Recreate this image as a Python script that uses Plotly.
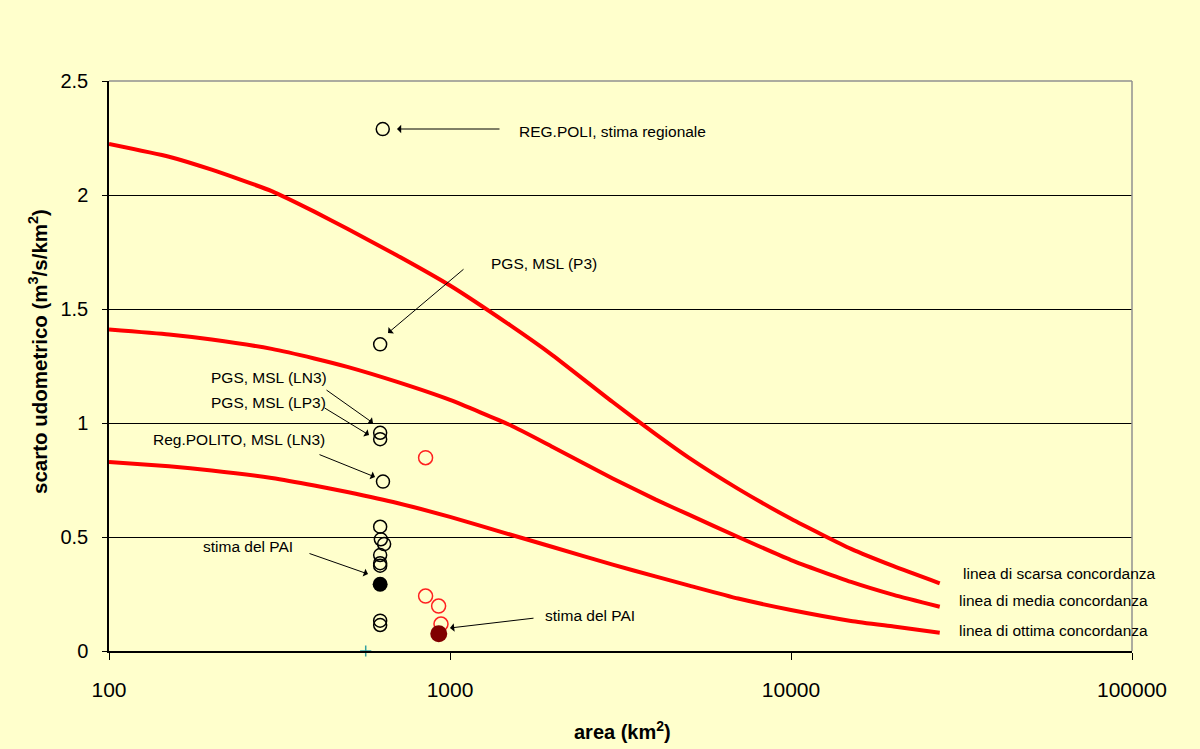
import plotly.graph_objects as go

# ---------------- data ----------------
curve_area = [100, 150, 200, 300, 400, 500, 700, 1000, 1500, 2000, 3000, 4000, 5000, 7000, 10000, 15000, 20000, 27300]
scarsa = [2.224, 2.168, 2.111, 2.017, 1.927, 1.852, 1.735, 1.603, 1.429, 1.297, 1.092, 0.952, 0.849, 0.711, 0.580, 0.448, 0.372, 0.297]
media = [1.410, 1.388, 1.366, 1.325, 1.283, 1.246, 1.180, 1.101, 0.991, 0.895, 0.757, 0.665, 0.599, 0.500, 0.399, 0.303, 0.246, 0.194]
ottima = [0.829, 0.810, 0.792, 0.759, 0.726, 0.697, 0.649, 0.588, 0.511, 0.456, 0.379, 0.327, 0.288, 0.230, 0.180, 0.132, 0.107, 0.080]

black_open_area = [635, 624, 624, 624, 636, 624, 627, 641, 624, 624, 624, 624, 624]
black_open_q = [2.289, 1.345, 0.957, 0.929, 0.743, 0.545, 0.490, 0.469, 0.421, 0.385, 0.374, 0.133, 0.114]
black_fill_area = [624]
black_fill_q = [0.293]
red_open_area = [848, 848, 926, 941]
red_open_q = [0.848, 0.241, 0.197, 0.118]
red_fill_area = [927]
red_fill_q = [0.076]
plus_area = [566]
plus_q = [0.0]

x_ticks = [100, 1000, 10000, 100000]
x_ticklabels = ["100", "1000", "10000", "100000"]
y_ticks = [0, 0.5, 1, 1.5, 2, 2.5]
y_ticklabels = ["0", "0.5", "1", "1.5", "2", "2.5"]

curve_labels = ["linea di scarsa concordanza", "linea di media concordanza", "linea di ottima concordanza"]

# ---------------- layout geometry ----------------
W, H = 1200, 749
L, R, T, B = 109, 1132, 81, 651
PW, PH = R - L, B - T
BG = "#FFFFCC"
FONT = "Liberation Sans, Arial, sans-serif"


def px(xp, yp):
    return (xp - L) / PW, (B - yp) / PH


fig = go.Figure()

for ys in (scarsa, media, ottima):
    fig.add_trace(go.Scatter(x=curve_area, y=ys, mode="lines",
                             line=dict(color="#FF0000", width=4, shape="spline", smoothing=0.5),
                             hoverinfo="skip"))

fig.add_trace(go.Scatter(x=black_open_area, y=black_open_q, mode="markers",
                         marker=dict(symbol="circle-open", size=13, color="black", line=dict(width=1.5))))
fig.add_trace(go.Scatter(x=black_fill_area, y=black_fill_q, mode="markers",
                         marker=dict(symbol="circle", size=15, color="black")))
fig.add_trace(go.Scatter(x=red_open_area, y=red_open_q, mode="markers",
                         marker=dict(symbol="circle-open", size=14, color="#FF2020", line=dict(width=1.5))))
fig.add_trace(go.Scatter(x=red_fill_area, y=red_fill_q, mode="markers",
                         marker=dict(symbol="circle", size=17, color="#800000")))
fig.add_trace(go.Scatter(x=plus_area, y=plus_q, mode="markers", cliponaxis=False,
                         marker=dict(symbol="cross-thin", size=8, color="#33A0A0",
                                     line=dict(width=1.5, color="#33A0A0"))))

annotations = []

# arrows: (tail_x, tail_y, head_x, head_y) in pixels
arrows = [
    (501, 129, 397, 129),
    (465, 268, 388, 333),
    (325, 389, 373, 423),
    (323, 407, 369, 435),
    (318, 454, 375, 477),
    (308, 553, 368, 574),
    (535, 618, 450, 628),
]
for tx, ty, hx, hy in arrows:
    x, y = px(hx, hy)
    annotations.append(dict(x=x, y=y, xref="paper", yref="paper", text="",
                            showarrow=True, ax=tx - hx, ay=ty - hy,
                            arrowhead=1, arrowsize=1.4, arrowwidth=1,
                            arrowcolor="black", standoff=0))

# text labels: (text, left_x, center_y)
labels = [
    ("REG.POLI, stima regionale", 517, 131),
    ("PGS, MSL (P3)", 489, 263),
    ("PGS, MSL (LN3)", 209, 377),
    ("PGS, MSL (LP3)", 209, 402),
    ("Reg.POLITO, MSL (LN3)", 151, 439),
    ("stima del PAI", 201, 546),
    ("stima del PAI", 543, 615),
    (curve_labels[0], 961, 573),
    (curve_labels[1], 957, 600),
    (curve_labels[2], 957, 630),
]
for text, lx, cy in labels:
    x, y = px(lx, cy)
    annotations.append(dict(x=x, y=y, xref="paper", yref="paper", text=text,
                            showarrow=False, xanchor="left", yanchor="middle",
                            font=dict(family=FONT, size=15.5, color="black")))

# axis titles
x, y = px(622, 730)
annotations.append(dict(x=x, y=y, xref="paper", yref="paper",
                        text="<b>area (km<sup>2</sup>)</b>", showarrow=False,
                        xanchor="center", yanchor="middle",
                        font=dict(family=FONT, size=20, color="black")))
x, y = px(38, 352)
annotations.append(dict(x=x, y=y, xref="paper", yref="paper",
                        text="<b>scarto udometrico (m<sup>3</sup>/s/km<sup>2</sup>)</b>", showarrow=False,
                        textangle=-90, xanchor="center", yanchor="middle",
                        font=dict(family=FONT, size=20.5, color="black")))

fig.update_layout(
    width=W, height=H,
    margin=dict(l=L, r=W - R, t=T, b=H - B, pad=0),
    paper_bgcolor=BG, plot_bgcolor=BG,
    showlegend=False,
    annotations=annotations,
    shapes=[dict(type="line", xref="paper", yref="paper", x0=0, x1=1, y0=1, y1=1,
                 line=dict(color="#909090", width=1.5), layer="above"),
            dict(type="line", xref="paper", yref="paper", x0=1, x1=1, y0=0, y1=1,
                 line=dict(color="#909090", width=1.5), layer="above")],
    xaxis=dict(type="log", range=[2, 5], tickvals=x_ticks, ticktext=x_ticklabels,
               showgrid=False, zeroline=False, showline=True, linecolor="black", linewidth=1.5,
               ticks="outside", ticklen=7, tickcolor="black", tickwidth=1,
               ticklabelstandoff=12,
               tickfont=dict(family="Liberation Sans Narrow, Arial Narrow, Liberation Sans, Arial", size=21, color="black")),
    yaxis=dict(range=[0, 2.5], tickvals=y_ticks, ticktext=y_ticklabels,
               showgrid=True, gridcolor="black", gridwidth=1, zeroline=False,
               showline=True, linecolor="black", linewidth=1.5,
               ticks="outside", ticklen=5, tickcolor="black", tickwidth=1,
               ticklabelstandoff=10,
               tickfont=dict(family=FONT, size=20, color="black")),
)

fig.write_html("out.html", config={"displayModeBar": False},
               post_script="document.body.style.margin='0';document.body.style.background='#FFFFCC';")
